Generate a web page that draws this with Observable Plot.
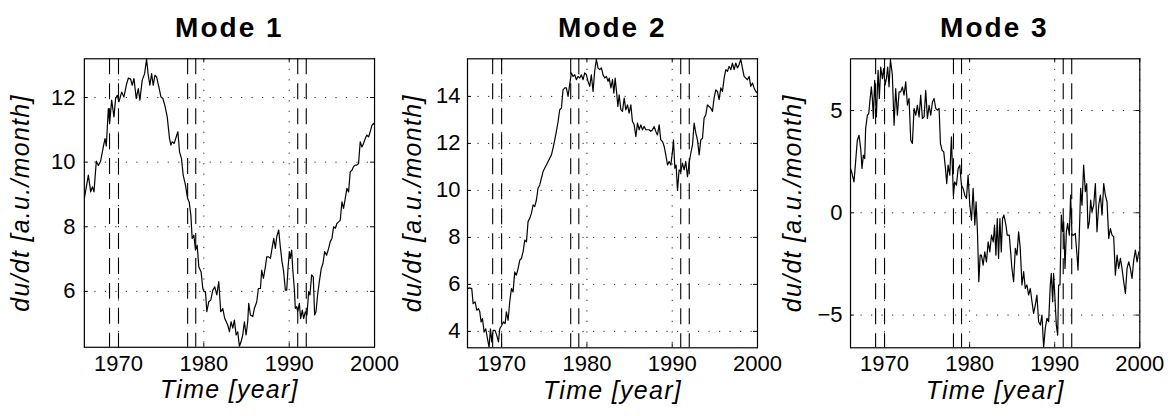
<!DOCTYPE html>
<html><head><meta charset="utf-8">
<script src="https://cdn.jsdelivr.net/npm/d3@7"></script>
<script src="https://cdn.jsdelivr.net/npm/@observablehq/plot@0.6"></script>
<style>
html,body{margin:0;padding:0;background:#fff;}
#chart{position:relative;width:1169px;height:416px;overflow:hidden;font-family:"Liberation Sans",Arial,Helvetica,sans-serif;color:#000;}
.panel{position:absolute;top:0;width:400px;height:416px;}
.title{position:absolute;top:0;left:84px;height:50px;text-align:center;font-weight:bold;font-size:28px;letter-spacing:2px;line-height:28px;padding-top:14px;box-sizing:border-box;}
.panel svg{position:absolute;top:50px;left:0;}
</style></head><body><div id="chart"></div><script>
const xTicks = [1970, 1980, 1990, 2000];
const eventYears = [1968.95, 1970.0, 1978.1, 1979.05, 1991.0, 1992.0];
const titles = ["Mode 1", "Mode 2", "Mode 3"];
const xLabel = "Time [year]";
const yLabel = "du/dt [a.u./month]";
const yTicks1 = [6, 8, 10, 12];
const yTicks2 = [4, 6, 8, 10, 12, 14];
const yTicks3 = [-5, 0, 5];

const mode1 = [
[1966.00,8.88],[1966.47,9.60],[1966.74,9.08],[1966.94,9.24],[1967.13,9.08],[1967.40,10.03],[1967.64,9.90],[1967.91,10.03],[1968.18,10.42],[1968.42,10.73],[1968.57,10.50],[1968.81,11.66],[1968.96,11.20],[1969.20,11.92],[1969.47,11.40],[1969.66,11.97],[1969.86,12.07],[1970.05,11.87],[1970.37,12.17],[1970.64,12.02],[1970.91,12.38],[1971.15,12.60],[1971.42,12.57],[1971.61,12.38],[1971.81,12.59],[1972.08,11.97],[1972.32,12.28],[1972.51,11.92],[1972.78,12.54],[1973.06,12.74],[1973.29,13.19],[1973.49,12.69],[1973.68,12.38],[1973.88,12.74],[1974.07,12.38],[1974.27,12.69],[1974.46,12.64],[1974.73,12.33],[1974.97,12.02],[1975.20,11.97],[1975.43,11.76],[1975.71,11.40],[1975.98,10.73],[1976.14,10.53],[1976.29,10.63],[1976.53,10.58],[1976.76,10.78],[1976.96,10.94],[1977.15,10.32],[1977.38,10.11],[1977.58,9.60],[1977.85,9.29],[1978.09,8.88],[1978.28,8.77],[1978.48,8.36],[1978.63,7.64],[1978.83,7.74],[1979.02,7.28],[1979.22,7.43],[1979.41,6.76],[1979.68,6.60],[1979.88,6.09],[1980.04,5.99],[1980.19,5.99],[1980.35,5.37],[1980.58,5.68],[1980.81,5.73],[1981.05,6.04],[1981.28,6.14],[1981.52,5.89],[1981.75,6.30],[1981.98,5.37],[1982.22,5.47],[1982.45,5.16],
[1982.80,4.96],[1983.00,4.75],[1983.19,5.06],[1983.39,4.86],[1983.58,5.11],[1983.78,4.65],[1983.97,4.75],[1984.17,4.30],[1984.36,4.44],[1984.56,4.65],[1984.75,5.06],[1984.95,4.65],[1985.14,5.06],[1985.26,5.63],[1985.46,5.27],[1985.73,5.22],[1985.92,5.47],[1986.20,5.68],[1986.39,6.09],[1986.63,6.09],[1986.78,6.66],[1986.98,6.40],[1987.21,6.76],[1987.37,7.07],[1987.60,7.07],[1987.80,7.02],[1987.99,7.33],[1988.19,7.64],[1988.38,7.33],[1988.54,7.69],[1988.77,7.90],[1988.96,7.38],[1989.16,6.92],[1989.35,6.61],[1989.55,6.04],[1989.71,6.04],[1989.86,6.71],[1990.02,7.23],[1990.13,7.02],[1990.29,7.28],[1990.41,6.71],[1990.60,6.09],[1990.72,5.47],[1990.88,5.53],[1990.99,5.37],[1991.19,5.63],[1991.34,5.16],[1991.54,5.42],[1991.69,5.16],[1991.89,5.37],[1992.08,5.27],[1992.28,5.99],[1992.43,5.89],[1992.63,6.51],[1992.82,6.45],[1992.98,5.27],[1993.14,5.37],[1993.33,5.89],[1993.53,6.30],[1993.76,6.71],[1993.96,6.87],[1994.15,7.23],[1994.38,7.12],[1994.62,7.33],[1994.81,7.54],[1995.01,7.64],[1995.20,8.00],[1995.40,7.95],[1995.59,8.10],[1995.79,8.15],[1995.98,8.20],[1996.18,8.77],[1996.37,8.57],[1996.57,8.88],[1996.76,9.19],[1996.96,9.08],[1997.15,9.70],[1997.35,9.75],[1997.54,9.86],[1997.74,9.91],[1997.93,9.91],[1998.13,9.96],[1998.32,10.63],[1998.52,10.47],[1998.71,10.58],[1998.91,10.73],[1999.10,10.84],[1999.30,10.78],[1999.49,10.94],[1999.69,11.14],[1999.88,11.20],[2000.00,11.15]
];

const mode2 = [
[1966.00,5.82],[1966.27,5.85],[1966.50,5.82],[1966.66,5.18],[1966.89,5.25],[1967.09,4.90],[1967.28,4.97],[1967.44,4.83],[1967.59,4.40],[1967.75,4.54],[1967.95,3.97],[1968.14,4.11],[1968.34,3.69],[1968.53,3.32],[1968.69,4.11],[1968.84,3.55],[1969.00,4.04],[1969.23,4.04],[1969.43,3.83],[1969.63,3.55],[1969.78,4.11],[1970.02,4.26],[1970.21,4.40],[1970.41,4.33],[1970.56,4.83],[1970.76,4.47],[1970.95,5.25],[1971.15,5.82],[1971.34,5.68],[1971.54,6.53],[1971.73,6.39],[1971.93,6.67],[1972.13,7.03],[1972.32,7.10],[1972.52,7.39],[1972.71,7.88],[1972.91,7.81],[1973.10,8.67],[1973.30,8.81],[1973.49,9.02],[1973.69,9.38],[1973.88,9.31],[1974.08,9.59],[1974.27,10.09],[1974.47,10.23],[1974.66,10.51],[1974.86,10.80],[1975.05,10.94],[1975.25,11.08],[1975.45,11.23],[1975.64,11.37],[1975.84,11.51],[1976.03,11.80],[1976.23,12.15],[1976.42,12.51],[1976.62,12.93],[1976.81,13.43],[1977.01,13.50],[1977.20,14.28],[1977.40,14.36],[1977.59,14.36],[1977.79,14.00],[1977.98,14.50],[1978.18,15.00],[1978.38,14.85],[1978.57,14.92],[1978.77,14.71],[1978.96,14.85],[1979.16,14.78],[1979.35,14.92],[1979.55,14.71],[1979.74,15.00],[1979.94,14.92],[1980.13,14.64],[1980.33,14.43],[1980.52,14.92],[1980.72,14.21],[1980.91,15.07],[1981.11,15.58],[1981.30,15.21],[1981.50,15.14],[1981.70,15.21],[1981.89,14.92],[1982.09,14.78],[1982.28,14.85],[1982.48,14.64],
[1982.61,14.78],[1982.81,14.36],[1983.00,14.71],[1983.16,14.14],[1983.31,14.78],[1983.47,14.21],[1983.63,13.57],[1983.78,14.07],[1983.98,13.43],[1984.17,13.36],[1984.37,13.93],[1984.56,13.43],[1984.76,13.64],[1984.95,13.29],[1985.15,13.64],[1985.34,12.93],[1985.54,12.79],[1985.74,12.29],[1985.93,12.86],[1986.13,12.58],[1986.32,12.79],[1986.52,12.58],[1986.71,12.72],[1986.91,12.58],[1987.10,12.58],[1987.30,12.58],[1987.49,12.51],[1987.69,12.58],[1987.88,12.72],[1988.08,12.51],[1988.27,12.36],[1988.47,12.79],[1988.66,12.15],[1988.86,12.08],[1989.06,11.87],[1989.25,11.51],[1989.45,11.08],[1989.64,11.23],[1989.84,11.08],[1990.03,11.65],[1990.15,12.15],[1990.31,10.94],[1990.46,11.08],[1990.62,10.00],[1990.81,10.87],[1991.01,10.80],[1991.20,11.16],[1991.40,10.87],[1991.59,11.23],[1991.79,10.58],[1991.98,11.16],[1992.18,11.58],[1992.38,11.94],[1992.57,12.86],[1992.77,12.44],[1992.96,12.15],[1993.16,11.51],[1993.35,12.15],[1993.55,12.22],[1993.74,13.08],[1993.94,13.22],[1994.13,13.64],[1994.33,13.57],[1994.52,13.50],[1994.72,13.36],[1994.91,13.93],[1995.11,14.28],[1995.30,14.21],[1995.50,13.86],[1995.70,14.36],[1995.89,14.21],[1996.09,14.78],[1996.28,15.14],[1996.48,15.07],[1996.67,15.28],[1996.87,15.14],[1997.06,15.42],[1997.26,15.14],[1997.45,15.42],[1997.65,15.21],[1997.84,15.35],[1998.04,15.58],[1998.23,15.21],[1998.43,14.85],[1998.63,14.78],[1998.82,14.71],[1999.02,14.85],[1999.21,14.43],[1999.41,14.57],[1999.60,14.36],[1999.80,14.21],[2000.00,14.14]
];

const mode3 = [
[1966.00,2.17],[1966.18,1.92],[1966.41,1.51],[1966.57,2.33],[1966.80,3.55],[1967.00,3.79],[1967.20,3.14],[1967.35,2.17],[1967.51,2.82],[1967.67,2.65],[1967.78,4.12],[1967.98,4.77],[1968.14,4.85],[1968.29,5.50],[1968.45,6.16],[1968.57,5.59],[1968.69,4.61],[1968.84,6.48],[1969.04,4.69],[1969.24,6.97],[1969.39,5.59],[1969.55,7.13],[1969.75,6.56],[1969.90,7.05],[1970.06,6.24],[1970.22,6.56],[1970.37,7.13],[1970.53,6.16],[1970.69,7.50],[1970.92,6.73],[1971.12,4.28],[1971.31,6.07],[1971.51,4.77],[1971.71,5.91],[1971.90,5.91],[1972.10,6.16],[1972.29,5.75],[1972.49,6.40],[1972.69,5.26],[1972.88,5.59],[1973.08,3.55],[1973.27,3.39],[1973.47,5.10],[1973.67,4.77],[1973.86,5.26],[1974.06,4.69],[1974.25,5.75],[1974.45,4.61],[1974.65,4.69],[1974.84,5.99],[1975.04,4.61],[1975.24,5.26],[1975.43,4.77],[1975.63,5.42],[1975.82,5.59],[1976.02,5.10],[1976.22,5.02],[1976.41,5.10],[1976.57,3.39],[1976.76,3.06],[1976.96,2.98],[1977.16,2.17],[1977.31,1.43],[1977.47,2.33],[1977.67,1.84],[1977.86,3.71],[1977.98,2.17],[1978.10,0.86],[1978.25,1.51],[1978.45,1.35],[1978.65,2.17],[1978.84,2.33],[1979.04,1.35],[1979.24,1.19],[1979.43,0.86],[1979.63,0.70],[1979.82,1.84],[1980.02,0.37],[1980.22,-0.36],[1980.41,1.19],[1980.61,-0.60],[1980.76,0.54],[1980.92,-0.93],[1981.08,-3.37],[1981.24,-2.07],[1981.39,-2.07],[1981.59,-2.56],[1981.78,-1.91],[1981.98,-2.40],[1982.18,-1.42],[1982.37,-1.91],[1982.57,-1.09],
[1982.78,-1.42],[1982.93,-0.60],[1983.09,-2.07],[1983.25,-0.28],[1983.40,-2.23],[1983.56,-0.28],[1983.72,-1.91],[1983.87,-0.28],[1984.03,-0.11],[1984.27,-0.60],[1984.42,-1.09],[1984.66,-1.09],[1984.82,-1.91],[1984.97,-2.72],[1985.17,-3.37],[1985.37,-1.74],[1985.56,-2.07],[1985.76,-0.93],[1985.95,-1.74],[1986.15,-3.53],[1986.35,-2.88],[1986.54,-3.70],[1986.74,-3.53],[1986.93,-4.02],[1987.13,-3.70],[1987.33,-4.35],[1987.52,-4.92],[1987.72,-4.51],[1987.91,-4.02],[1988.11,-5.33],[1988.31,-5.49],[1988.50,-5.00],[1988.70,-6.58],[1988.89,-5.65],[1989.09,-5.16],[1989.29,-5.33],[1989.48,-3.53],[1989.60,-2.96],[1989.76,-4.35],[1989.87,-2.96],[1990.03,-4.19],[1990.19,-5.49],[1990.35,-5.98],[1990.46,-3.53],[1990.62,-3.53],[1990.78,-0.11],[1990.93,-0.93],[1991.05,-0.44],[1991.21,-2.72],[1991.37,-0.93],[1991.52,-0.52],[1991.72,-1.09],[1991.87,0.86],[1992.03,-1.09],[1992.23,-1.09],[1992.42,-1.01],[1992.62,-2.07],[1992.74,-2.80],[1992.89,-1.09],[1993.05,1.19],[1993.21,0.37],[1993.40,2.33],[1993.60,1.03],[1993.76,1.43],[1993.91,-0.77],[1994.07,-0.44],[1994.23,0.62],[1994.38,0.05],[1994.58,0.37],[1994.78,1.43],[1994.97,-0.93],[1995.17,0.37],[1995.37,0.86],[1995.56,-0.11],[1995.76,1.43],[1995.95,0.86],[1996.15,0.54],[1996.35,-1.25],[1996.54,-0.77],[1996.74,-1.09],[1996.93,-1.17],[1997.13,-3.05],[1997.33,-2.07],[1997.52,-2.72],[1997.72,-2.23],[1997.91,-2.72],[1998.11,-3.37],[1998.31,-3.94],[1998.50,-2.72],[1998.70,-2.40],[1998.89,-2.72],[1999.09,-3.21],[1999.29,-2.31],[1999.48,-1.82],[1999.68,-2.40],[1999.88,-1.91],[2000.00,-1.99]
];

const panels = [
  {title: titles[0], data: mode1, yDomain: [4.27, 13.2], yTicks: yTicks1, left: 0, w: 290.7, labelDx: -63, tickPad: 9},
  {title: titles[1], data: mode2, yDomain: [3.3, 15.6], yTicks: yTicks2, left: 383.3, w: 290, labelDx: -55, tickPad: 7},
  {title: titles[2], data: mode3, yDomain: [-6.6, 7.53], yTicks: yTicks3, left: 765.7, w: 289.3, labelDx: -58, tickPad: 8}
];

const fmtY = d => d < 0 ? "\u2212" + Math.abs(d) : String(d);
const chart = document.getElementById("chart");
const ML = 84, MR = 26, MT = 8.3, MB = 68.7, H = 366;
const plotH = H - MT - MB;
const dotted = "1.2 9.3";

for (const p of panels) {
  const div = document.createElement("div");
  div.className = "panel";
  div.style.left = p.left + "px";
  const t = document.createElement("div");
  t.className = "title";
  t.style.width = p.w + "px";
  t.textContent = p.title;
  div.appendChild(t);
  const svg = Plot.plot({
    width: ML + p.w + MR,
    height: H,
    marginLeft: ML, marginRight: MR, marginTop: MT, marginBottom: MB,
    style: {fontFamily: '"Liberation Sans", Arial, Helvetica, sans-serif', fontSize: "22px", background: "transparent", overflow: "visible", color: "#000"},
    x: {domain: [1966, 2000]},
    y: {domain: p.yDomain},
    marks: [
      Plot.gridX(xTicks, {stroke: "#000", strokeOpacity: 0.85, strokeWidth: 1, strokeDasharray: dotted}),
      Plot.gridY(p.yTicks, {stroke: "#000", strokeOpacity: 0.85, strokeWidth: 1, strokeDasharray: dotted}),
      Plot.ruleX(eventYears, {stroke: "#000", strokeWidth: 1.1, strokeDasharray: "16 9"}),
      Plot.line(p.data, {x: d => d[0], y: d => d[1], stroke: "#000", strokeWidth: 1.2, clip: true}),
      Plot.tickY(p.yTicks, {y: d => d, stroke: "#000", insetRight: p.w - 4}),
      Plot.tickY(p.yTicks, {y: d => d, stroke: "#000", insetLeft: p.w - 4}),
      Plot.tickX(xTicks, {x: d => d, stroke: "#000", insetTop: plotH - 4}),
      Plot.tickX(xTicks, {x: d => d, stroke: "#000", insetBottom: plotH - 4}),
      Plot.axisX(xTicks, {tickSize: 0, tickPadding: 8, tickFormat: d => String(d), label: null, fontSize: 22}),
      Plot.axisY(p.yTicks, {tickSize: 0, tickPadding: p.tickPad, tickFormat: fmtY, label: null, fontSize: 22}),
      Plot.frame({stroke: "#000", strokeWidth: 1.2}),
      Plot.text([xLabel], {frameAnchor: "bottom", dy: 51, lineAnchor: "bottom", textAnchor: "middle", fontSize: 25, fontStyle: "italic", fill: "#000"}),
      Plot.text([yLabel], {frameAnchor: "left", dx: p.labelDx, rotate: -90, textAnchor: "middle", lineAnchor: "middle", fontSize: 25, fontStyle: "italic", fill: "#000"})
    ]
  });
  d3.select(svg).selectAll("text")
    .filter(function() { return this.textContent === xLabel || this.textContent === yLabel; })
    .attr("letter-spacing", "1.3px");
  div.appendChild(svg);
  chart.appendChild(div);
}
</script></body></html>
